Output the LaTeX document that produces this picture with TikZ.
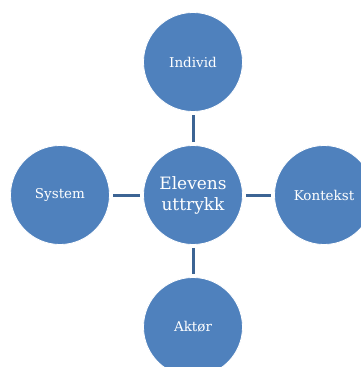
\documentclass[tikz,border=0pt]{standalone}
\usepackage{fontspec}
\setmainfont{DejaVu Serif}
\definecolor{ballblue}{HTML}{4F81BD}
\definecolor{linkblue}{HTML}{3C6494}
\begin{document}
\begin{tikzpicture}[x=1pt, y=-1pt,
    ball/.style={circle, fill=ballblue, draw=white, line width=0.8pt,
        minimum size=99pt, inner sep=0pt, text=white, font=\fontsize{13.5}{16}\selectfont},
    link/.style={draw=linkblue, line width=3pt}]

    % Frame
    \useasboundingbox (0,0) rectangle (361,367);

    % Circles
    \node[ball, font=\fontsize{17}{21}\selectfont, align=center] (mid) at (193,195) {Elevens\\uttrykk};
    \node[ball] (individ) at (193,62) {Individ};
    \node[ball] (system) at (60,195) {System};
    \node[ball] (kontekst) at (324,195) {Kontekst};
    \node[ball] (aktor) at (193,327) {Aktør};

    % Links
    \draw[link, shorten <=3pt, shorten >=3pt] (mid) -- (individ);
    \draw[link, shorten <=3pt, shorten >=3pt] (mid) -- (system);
    \draw[link, shorten <=3pt, shorten >=3pt] (mid) -- (kontekst);
    \draw[link, shorten <=3pt, shorten >=3pt] (mid) -- (aktor);

\end{tikzpicture}
\end{document}
